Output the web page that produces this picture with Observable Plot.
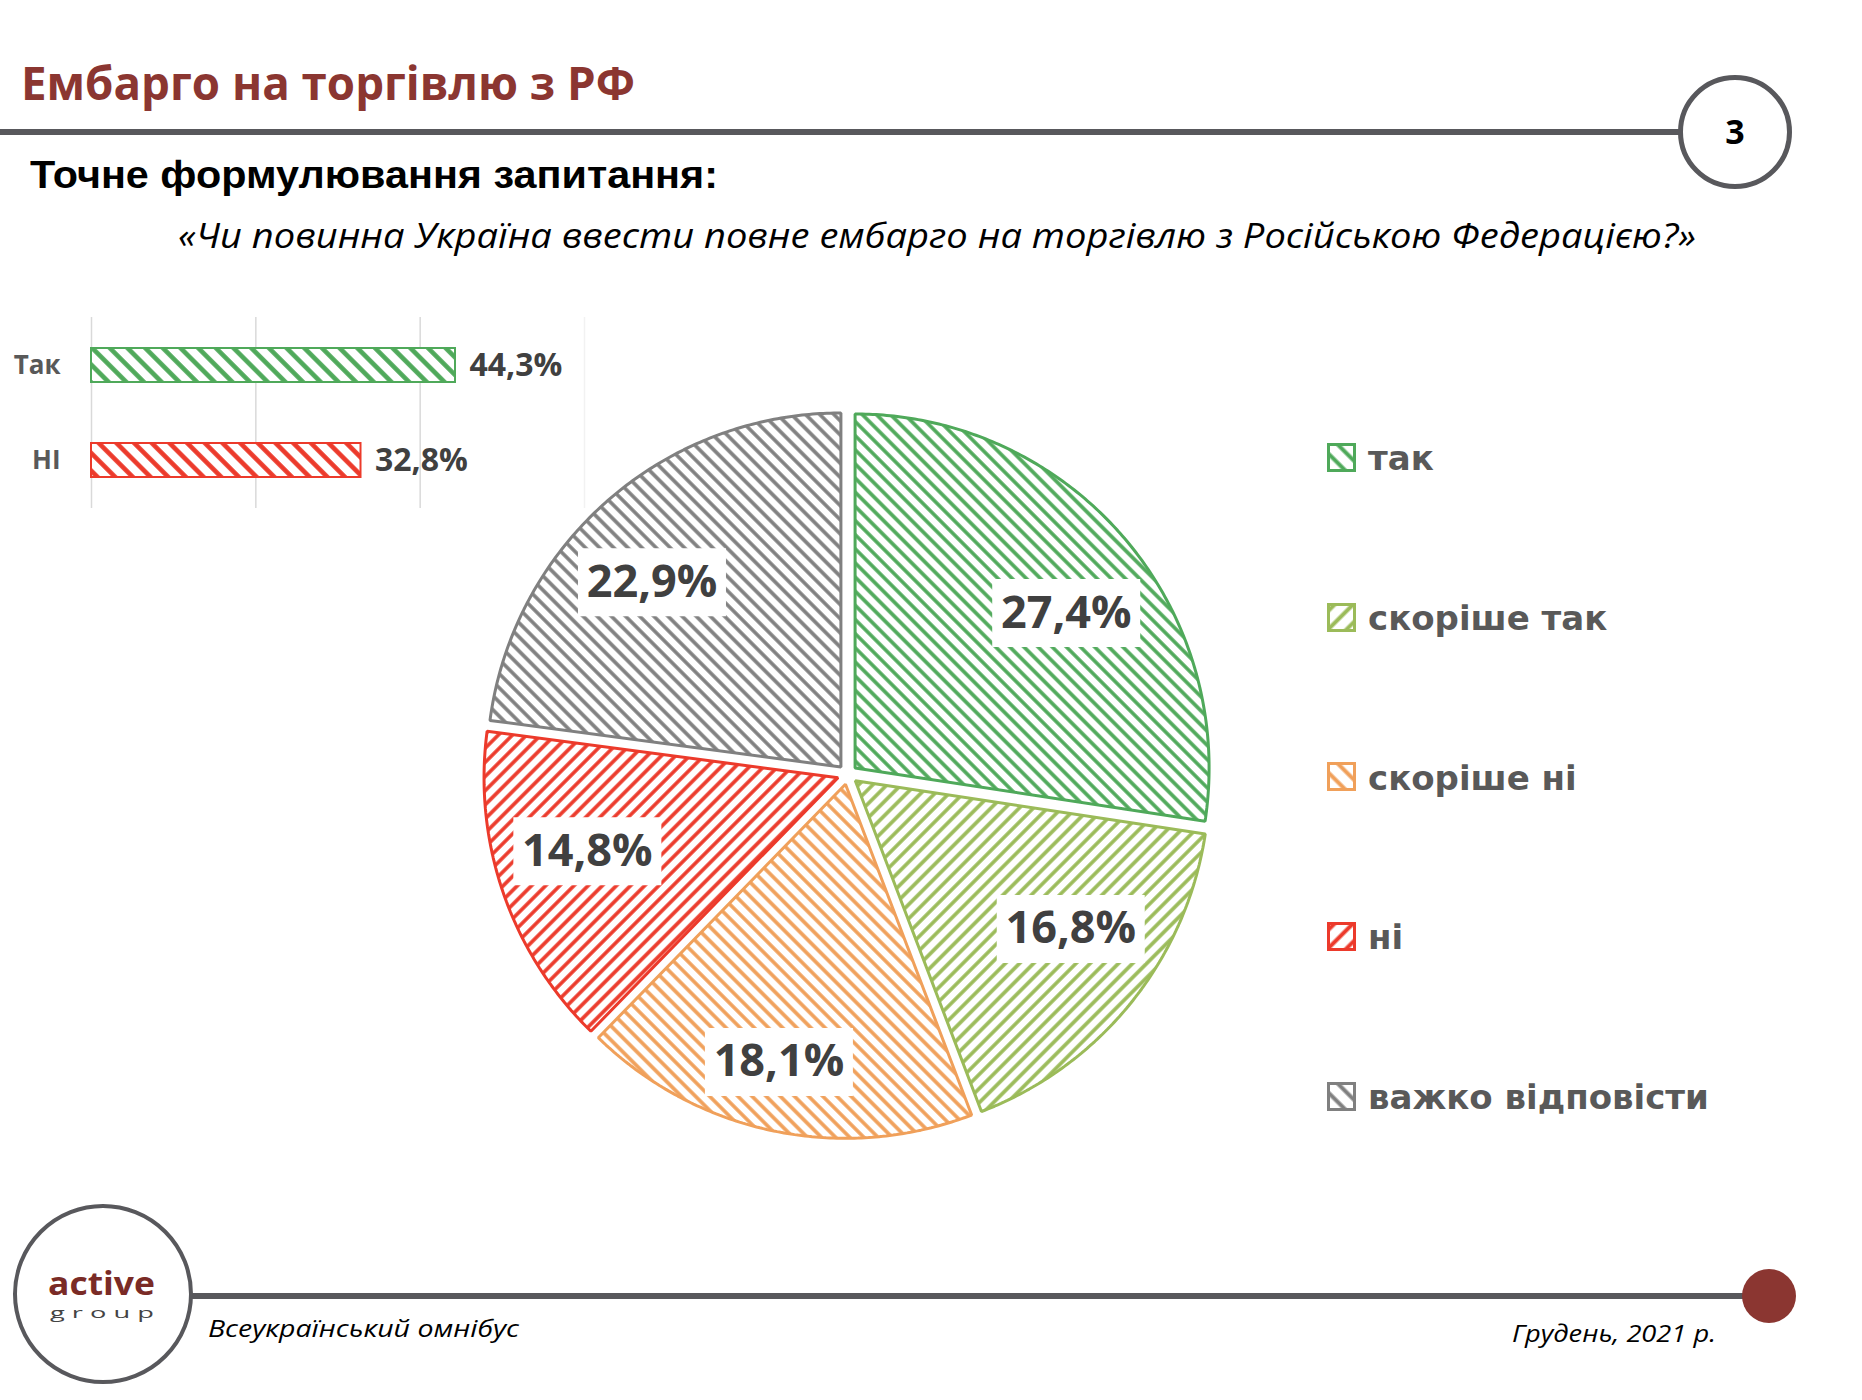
<!DOCTYPE html>
<html><head><meta charset="utf-8">
<script src="https://cdn.jsdelivr.net/npm/d3@7"></script>
<script src="https://cdn.jsdelivr.net/npm/@observablehq/plot@0.6"></script>
<style>
body{margin:0;background:#fff;}
#page{position:relative;width:1862px;height:1400px;overflow:hidden;font-family:"Open Sans",sans-serif;background:#fff;}
.abs{position:absolute;white-space:nowrap;line-height:1;}
</style></head><body><div id="page"></div>
<script>
// ---------- data ----------
const titleText = "Ембарго на торгівлю з РФ";
const questionHead = "Точне формулювання запитання:";
const questionText = "«Чи повинна Україна ввести повне ембарго на торгівлю з Російською Федерацією?»";
const pageNumber = "3";
const footerLeft = "Всеукраїнський омнібус";
const footerRight = "Грудень, 2021 р.";

const pieCategories = ["так", "скоріше так", "скоріше ні", "ні", "важко відповісти"];
const pieValues = [27.4, 16.8, 18.1, 14.8, 22.9];
const pieLabels = ["27,4%", "16,8%", "18,1%", "14,8%", "22,9%"];
const pieColors = ["#4FA95A", "#9BBB59", "#F0A05A", "#EC3A2B", "#808080"];
const pieHatch = ["\\", "/", "\\", "/", "\\"];

const barCategories = ["Так", "НІ"];
const barValues = [44.3, 32.8];
const barLabels = ["44,3%", "32,8%"];
const barColors = ["#4FA95A", "#EC3A2B"];
const barTicks = [0, 20, 40];
const barTickEnd = [60];

// ---------- helpers ----------
const page = document.getElementById("page");
function hatch(id, color, dir, period, sw) {
  return `<pattern id="${id}" patternUnits="userSpaceOnUse" width="${period}" height="${period}" patternTransform="rotate(${dir === "/" ? 45 : -45})"><rect width="${period}" height="${period}" fill="white"/><line x1="${period/2}" y1="-1" x2="${period/2}" y2="${period+1}" stroke="${color}" stroke-width="${sw}"/></pattern>`;
}
let defs = "";
pieColors.forEach((c, i) => {
  defs += hatch(`pie-${i}`, c, pieHatch[i], 10, 3.6);
  defs += hatch(`leg-${i}`, c, pieHatch[i], 13, 4);
});
barColors.forEach((c, i) => { defs += hatch(`bar-${i}`, c, "\\", 12.5, 4.6); });
const defsSvg = document.createElementNS("http://www.w3.org/2000/svg", "svg");
defsSvg.setAttribute("width", "0"); defsSvg.setAttribute("height", "0");
defsSvg.style.position = "absolute";
defsSvg.innerHTML = `<defs>${defs}</defs>`;
page.appendChild(defsSvg);

const fits = [];
function addText(txt, {x, baseline, size, family = "Open Sans", weight = 400, style = "normal", color = "#000", k = 0.888, width = null, spacing = 0}) {
  const el = document.createElement("div");
  el.className = "abs";
  el.textContent = txt;
  Object.assign(el.style, {left: x + "px", top: (baseline - k * size) + "px", fontSize: size + "px",
    fontFamily: family, fontWeight: weight, fontStyle: style, color, letterSpacing: spacing + "px", transformOrigin: "left center"});
  page.appendChild(el);
  if (width) fits.push([el, width]);
  return el;
}
function addBox(style) {
  const el = document.createElement("div");
  el.style.position = "absolute";
  el.style.boxSizing = "border-box";
  Object.assign(el.style, style);
  page.appendChild(el);
  return el;
}
function doFit() {
  for (const [el, w] of fits) {
    el.style.transform = "none";
    const cw = el.getBoundingClientRect().width;
    if (cw > 0) el.style.transform = `scaleX(${w / cw})`;
  }
}

// ---------- header ----------
addText(titleText, {x: 21, baseline: 101, size: 47, weight: 700, color: "#8B3631", width: 614});
addBox({left: "0px", top: "129px", width: "1682px", height: "6px", background: "#58585C"});
addBox({left: "1678px", top: "75px", width: "114px", height: "114px", border: "5px solid #58585C", borderRadius: "50%", background: "#fff"});
const num = addText(pageNumber, {x: 1735, baseline: 144, size: 34, weight: 700, color: "#000"});
num.style.transform = "translateX(-50%)";
addText(questionHead, {x: 30, baseline: 188, size: 38, family: "Liberation Sans", weight: 700, k: 0.8465, width: 688});
addText(questionText, {x: 178, baseline: 248, size: 35, style: "italic", width: 1518});

// ---------- footer ----------
addBox({left: "190px", top: "1293px", width: "1560px", height: "6px", background: "#58585C"});
addBox({left: "13px", top: "1204px", width: "180px", height: "180px", border: "4px solid #58585C", borderRadius: "50%", background: "#fff"});
addBox({left: "1742px", top: "1269px", width: "54px", height: "54px", borderRadius: "50%", background: "#8B3631"});
addText("active", {x: 48, baseline: 1295, size: 33, weight: 700, color: "#7A2B26", width: 107});
addText("g r o u p", {x: 50, baseline: 1318, size: 14, color: "#444", width: 104});
addText(footerLeft, {x: 208, baseline: 1337, size: 24, style: "italic", width: 311});
addText(footerRight, {x: 1512, baseline: 1342, size: 24, style: "italic", width: 204});

// ---------- bar chart (Так / НІ) ----------
const barData = barCategories.map((c, i) => ({cat: c, value: barValues[i], label: barLabels[i], fill: `url(#bar-${i})`, stroke: barColors[i]}));
const bar = Plot.plot({
  width: 600, height: 230,
  marginLeft: 91, marginRight: 16, marginTop: 17, marginBottom: 22,
  x: {domain: [0, 60], axis: null},
  y: {domain: barCategories, paddingInner: 0.64, paddingOuter: 0.32, axis: null},
  color: {type: "identity"},
  style: {background: "transparent", fontFamily: "Open Sans"},
  marks: [
    Plot.gridX(barTicks, {stroke: "#D9D9D9", strokeOpacity: 1, strokeWidth: 1.5}),
    Plot.gridX(barTickEnd, {stroke: "#F2F2F2", strokeOpacity: 1, strokeWidth: 1.5}),
    Plot.barX(barData, {x: "value", y: "cat", fill: "fill", stroke: "stroke", strokeWidth: 2, inset: 0}),
    Plot.text(barData, {y: "cat", text: "cat", frameAnchor: "left", dx: -31, textAnchor: "end", fontSize: 26, fontWeight: 700, fill: "#595959"}),
    Plot.text(barData, {x: "value", y: "cat", text: "label", dx: 14, textAnchor: "start", fontSize: 32, fontWeight: 700, fill: "#404040"})
  ]
});
Object.assign(bar.style, {position: "absolute", left: "0px", top: "300px"});
page.appendChild(bar);

// ---------- pie chart ----------
const radiusPx = 354;                 // pie radius on screen
const boxW = 148, boxH = 68;          // label box size on screen
const arcs = d3.pie().sort(null).value(d => d)(pieValues);
const explode = 10 / radiusPx;        // slice offset, in radius units
const inner = 1 - 12 / radiusPx;      // "inside end" limit for label boxes
const half = 410 / radiusPx;          // half of the frame, in radius units
const slices = arcs.map((a) => {
  const mid = (a.startAngle + a.endAngle) / 2;
  const ox = explode * Math.sin(mid), oy = explode * Math.cos(mid);
  const n = Math.ceil((a.endAngle - a.startAngle) / 0.01);
  const pts = [{x: ox, y: oy}];
  for (let k = 0; k <= n; k++) {
    const t = a.startAngle + (a.endAngle - a.startAngle) * k / n;
    pts.push({x: ox + Math.sin(t), y: oy + Math.cos(t)});
  }
  return pts;
});
// label: placed "inside end" – box pushed out along its angle until its outer corner meets the inner limit,
// angle eased slightly toward the horizontal (as the spreadsheet best-fit does)
const hw = boxW / 2 / radiusPx, hh = boxH / 2 / radiusPx;
const labelData = arcs.map((a, i) => {
  let mid = (a.startAngle + a.endAngle) / 2;
  const ox = explode * Math.sin(mid), oy = explode * Math.cos(mid);
  const th = mid + 0.078 * Math.sin(2 * mid);
  const ux = Math.sin(th), uy = Math.cos(th);
  const bx = Math.abs(ux) * hw + Math.abs(uy) * hh;
  const b = (Math.abs(ux) * hw + Math.abs(uy) * hh);
  const c = hw * hw + hh * hh - inner * inner;
  const s = -b + Math.sqrt(b * b - c);
  return {x: ox + s * ux, y: oy + s * uy, label: pieLabels[i]};
});
const boxSymbol = {draw(ctx) { ctx.rect(-boxW / 2, -boxH / 2, boxW, boxH); }};
const pie = Plot.plot({
  width: 820, height: 820, margin: 0,
  x: {domain: [-half, half], axis: null},
  y: {domain: [-half, half], axis: null},
  style: {background: "transparent", fontFamily: "Open Sans"},
  marks: [
    ...slices.map((pts, i) => Plot.line(pts, {x: "x", y: "y", curve: "linear-closed", fill: `url(#pie-${i})`, stroke: pieColors[i], strokeWidth: 3, strokeLinejoin: "miter"})),
    Plot.dot(labelData, {x: "x", y: "y", symbol: boxSymbol, fill: "white", stroke: "none"}),
    Plot.text(labelData, {x: "x", y: "y", text: "label", fontSize: 45, fontWeight: 700, fill: "#404040"})
  ]
});
Object.assign(pie.style, {position: "absolute", left: (847 - 410) + "px", top: (774 - 410) + "px"});
page.appendChild(pie);

// ---------- legend ----------
pieCategories.forEach((c, i) => {
  const base = 470 + i * 159.7;
  const sw = document.createElementNS("http://www.w3.org/2000/svg", "svg");
  sw.setAttribute("width", "30"); sw.setAttribute("height", "30");
  Object.assign(sw.style, {position: "absolute", left: "1327px", top: (base - 27) + "px"});
  sw.innerHTML = `<rect x="1.5" y="1.5" width="26" height="26" fill="url(#leg-${i})" stroke="${pieColors[i]}" stroke-width="3"/>`;
  page.appendChild(sw);
  addText(c, {x: 1368, baseline: base, size: 34, family: "DejaVu Sans", weight: 700, color: "#595959", k: 0.846});
});

doFit();
if (document.fonts && document.fonts.ready) document.fonts.ready.then(doFit);
</script>
</body></html>
